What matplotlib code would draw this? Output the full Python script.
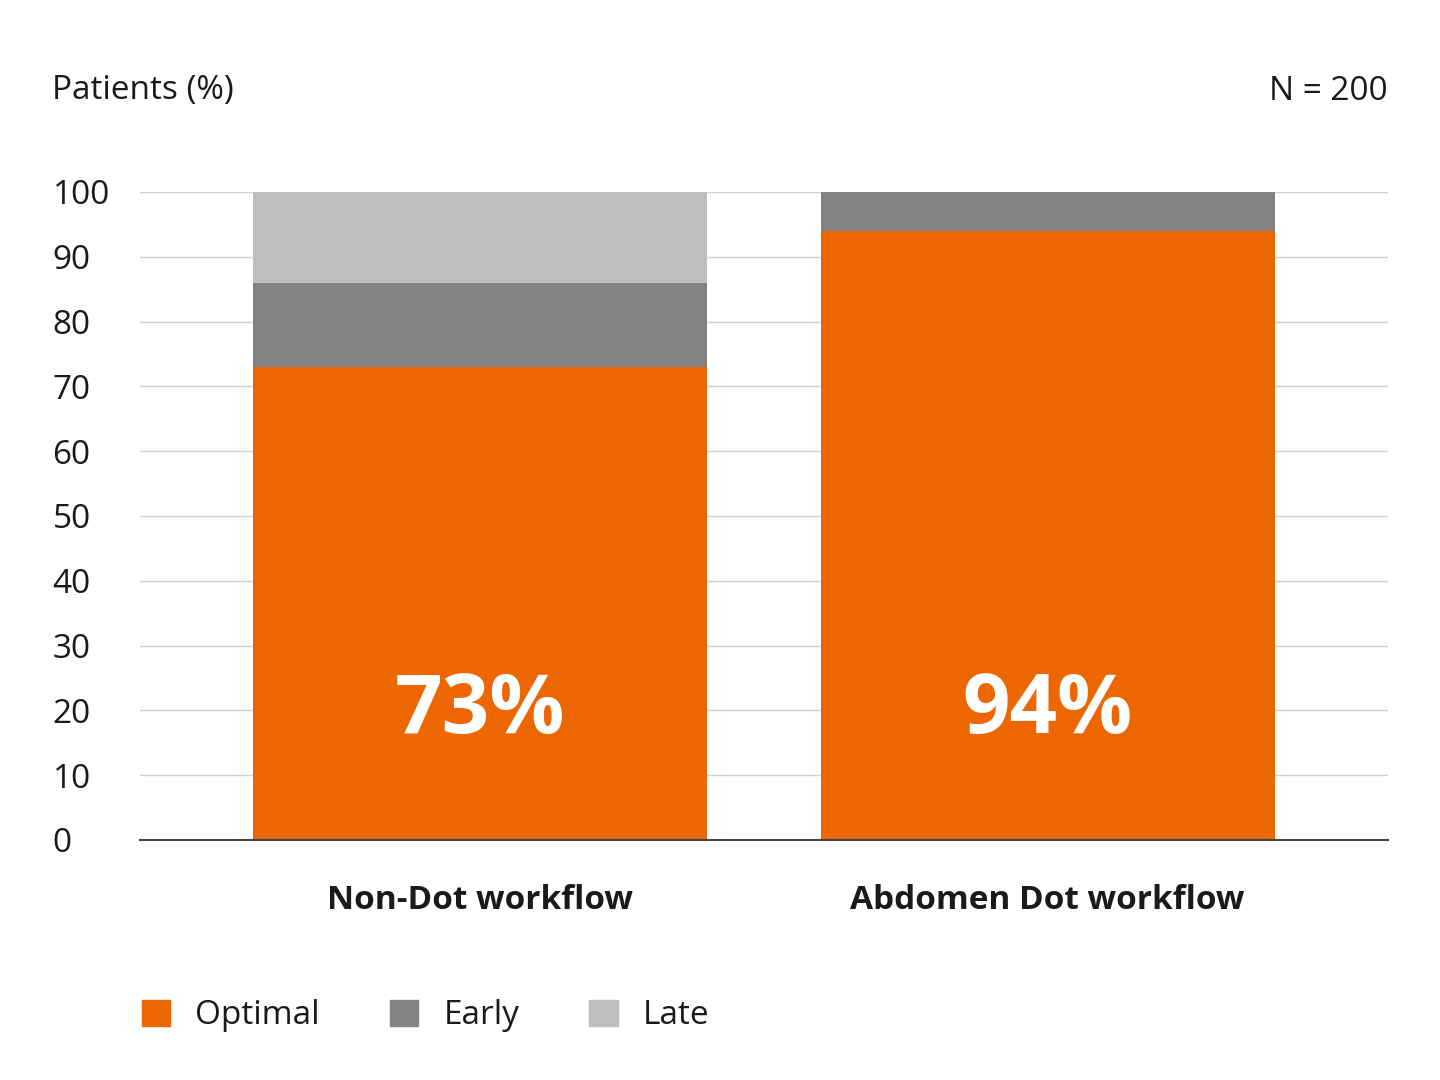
import matplotlib
matplotlib.use("Agg")
import matplotlib.pyplot as plt
from matplotlib.patches import Patch

categories = ["Non-Dot workflow", "Abdomen Dot workflow"]
optimal = [73, 94]
early = [13, 6]
late = [14, 0]
yticks = [0, 10, 20, 30, 40, 50, 60, 70, 80, 90, 100]
labels = ["73%", "94%"]

c_opt = "#EC6602"
c_early = "#828282"
c_late = "#BEBEBE"

plt.rcParams['font.family'] = ['Open Sans', 'DejaVu Sans']

fig = plt.figure(figsize=(14.4, 10.8), dpi=100)
ax = fig.add_axes([140/1440, 1 - 840/1080, 1248/1440, (840-192)/1080])

x = list(range(len(categories)))
w = 0.8
ax.bar(x, optimal, width=w, color=c_opt, zorder=3)
ax.bar(x, early, width=w, bottom=optimal, color=c_early, zorder=3)
bot2 = [a + b for a, b in zip(optimal, early)]
ax.bar(x, late, width=w, bottom=bot2, color=c_late, zorder=3)

for xi, lab in zip(x, labels):
    ax.text(xi, 19.8, lab, ha='center', va='center', color='white',
            fontsize=60, fontweight='bold', zorder=4)

ax.set_xlim(-0.6, 1.6)
ax.set_ylim(0, 100)
ax.set_yticks(yticks)
ax.set_yticklabels([str(v) for v in yticks], ha='left', fontsize=24, color='#1a1a1a')
ax.tick_params(axis='y', length=0, pad=63)
ax.set_xticks(x)
ax.set_xticklabels(categories, fontsize=24, fontweight='bold', color='#1a1a1a')
ax.tick_params(axis='x', length=0, pad=32)
ax.grid(axis='y', color='#d0d0d0', linewidth=1, zorder=0)
for s in ['top', 'right', 'left']:
    ax.spines[s].set_visible(False)
ax.spines['bottom'].set_color('#444444')
ax.spines['bottom'].set_linewidth(1.5)
ax.spines['bottom'].set_zorder(5)

fig.text(52/1440, 1 - 91/1080, "Patients (%)", ha='left', va='center', fontsize=24, color='#1a1a1a')
fig.text(1388/1440, 1 - 91/1080, "N = 200", ha='right', va='center', fontsize=24, color='#1a1a1a')

handles = [Patch(color=c_opt, label="Optimal"), Patch(color=c_early, label="Early"), Patch(color=c_late, label="Late")]
fig.legend(handles=handles, loc='center left', bbox_to_anchor=(112/1440, 1 - 1016/1080),
           ncol=3, frameon=False, fontsize=24, handlelength=0.85, handleheight=0.85,
           handletextpad=0.75, columnspacing=2.1, labelcolor='#1a1a1a')

fig.savefig("out.png", dpi=100)
